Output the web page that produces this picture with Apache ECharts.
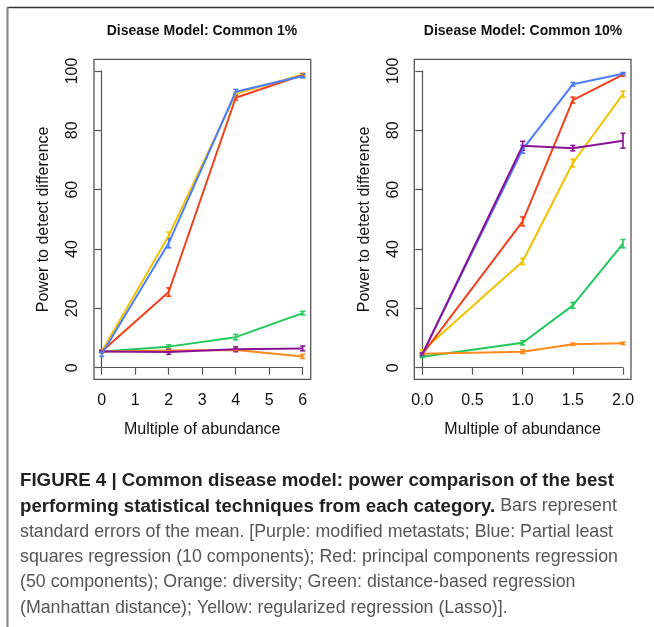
<!DOCTYPE html>
<html>
<head>
<meta charset="utf-8">
<script src="https://cdn.jsdelivr.net/npm/echarts@6/dist/echarts.min.js"></script>
<style>
  html, body { margin: 0; padding: 0; background: #fff; }
  #chart { width: 654px; height: 627px; }
</style>
</head>
<body>
<div id="chart"></div>
<script>
// 数据 - 左图 (Common 1%)
const xLeft = [0, 2, 4, 6]
const leftPurple = [5.5, 5.3, 6.2, 6.5]
const leftBlue = [4.5, 42, 93, 98.3]
const leftRed = [5.5, 25.5, 91, 98.6]
const leftOrange = [5.5, 5.8, 6.0, 3.8]
const leftGreen = [5.5, 7.1, 10.3, 18.4]
const leftYellow = [5.5, 44.5, 92.3, 98.8]
// 标准误 (左)
const leftPurpleErr = [0.3, 0.8, 0.8, 0.8]
const leftBlueErr = [0.7, 1.6, 0.8, 0.6]
const leftRedErr = [0.4, 1.4, 0.8, 0.5]
const leftOrangeErr = [0.3, 0.5, 0.5, 0.7]
const leftGreenErr = [0.3, 0.6, 0.9, 0.6]
const leftYellowErr = [0.4, 1.2, 0.6, 0.4]

// 数据 - 右图 (Common 10%)
const xRight = [0, 1, 1.5, 2]
const rightPurple = [4.5, 74.8, 74, 76.5]
const rightBlue = [4.5, 73.6, 95.5, 99.1]
const rightRed = [4.5, 49.3, 90.2, 98.8]
const rightOrange = [4.7, 5.4, 7.9, 8.2]
const rightGreen = [3.7, 8.4, 21, 41.8]
const rightYellow = [5.6, 35.8, 69, 92.2]
// 标准误 (右)
const rightPurpleErr = [0.4, 1.5, 0.9, 2.5]
const rightBlueErr = [0.4, 1.3, 0.6, 0.4]
const rightRedErr = [0.4, 1.5, 1.0, 0.5]
const rightOrangeErr = [0.3, 0.6, 0.4, 0.4]
const rightGreenErr = [0.3, 0.7, 1.0, 1.4]
const rightYellowErr = [0.4, 1.0, 1.3, 1.0]

const yTicks = [0, 20, 40, 60, 80, 100]
const titles = ['Disease Model: Common 1%', 'Disease Model: Common 10%']
const captionLines = [
  [['b', 'FIGURE 4 | Common disease model: power comparison of the best']],
  [['b', 'performing statistical techniques from each category.'], ['n', ' Bars represent']],
  [['n', 'standard errors of the mean. [Purple: modified metastats; Blue: Partial least']],
  [['n', 'squares regression (10 components); Red: principal components regression']],
  [['n', '(50 components); Orange: diversity; Green: distance-based regression']],
  [['n', '(Manhattan distance); Yellow: regularized regression (Lasso)].']]
]

const colors = {
  purple: '#8b1198',
  blue: '#4a7dff',
  red: '#f2401a',
  orange: '#ff8a1c',
  green: '#20c95a',
  yellow: '#f2c200'
}

const FONT = 'Liberation Sans, Arial, sans-serif'
const AXIS_COLOR = '#555'

const panels = [
  {
    x: xLeft, max: 6, interval: 1, fmt: v => String(v),
    series: [
      ['yellow', leftYellow, leftYellowErr],
      ['red', leftRed, leftRedErr],
      ['green', leftGreen, leftGreenErr],
      ['orange', leftOrange, leftOrangeErr],
      ['purple', leftPurple, leftPurpleErr],
      ['blue', leftBlue, leftBlueErr]
    ]
  },
  {
    x: xRight, max: 2, interval: 0.5, fmt: v => v.toFixed(1),
    series: [
      ['yellow', rightYellow, rightYellowErr],
      ['red', rightRed, rightRedErr],
      ['green', rightGreen, rightGreenErr],
      ['orange', rightOrange, rightOrangeErr],
      ['blue', rightBlue, rightBlueErr],
      ['purple', rightPurple, rightPurpleErr]
    ]
  }
]

// 图区布局
const gridPos = [
  { left: 101.7, top: 71, width: 201, height: 296.7 },
  { left: 422.3, top: 71, width: 200.7, height: 296.7 }
]
const boxes = [
  { x: 94, y: 59.3, width: 216.7, height: 320 },
  { x: 414.3, y: 59.3, width: 216.7, height: 320 }
]

const series = []
panels.forEach((p, gi) => {
  p.series.forEach(([name, vals, errs]) => {
    series.push({
      type: 'line',
      name,
      xAxisIndex: gi,
      yAxisIndex: gi,
      symbol: 'none',
      silent: true,
      lineStyle: { color: colors[name], width: 2 },
      data: p.x.map((x, i) => [x, vals[i]])
    })
    // 误差线
    series.push({
      type: 'custom',
      xAxisIndex: gi,
      yAxisIndex: gi,
      silent: true,
      data: p.x.map((x, i) => [x, vals[i] - errs[i], vals[i] + errs[i]]),
      renderItem: (params, api) => {
        const lo = api.coord([api.value(0), api.value(1)])
        const hi = api.coord([api.value(0), api.value(2)])
        const w = 2.5
        const st = { stroke: colors[name], lineWidth: 1.6 }
        return {
          type: 'group',
          children: [
            { type: 'line', shape: { x1: lo[0], y1: lo[1], x2: hi[0], y2: hi[1] }, style: st },
            { type: 'line', shape: { x1: lo[0] - w, y1: lo[1], x2: lo[0] + w, y2: lo[1] }, style: st },
            { type: 'line', shape: { x1: hi[0] - w, y1: hi[1], x2: hi[0] + w, y2: hi[1] }, style: st }
          ]
        }
      }
    })
  })
})

const graphic = [
  // 外框
  { type: 'line', shape: { x1: 7, y1: 7.5, x2: 654, y2: 7.5 }, style: { stroke: '#333', lineWidth: 1.6 } },
  { type: 'line', shape: { x1: 7.5, y1: 7, x2: 7.5, y2: 627 }, style: { stroke: '#888', lineWidth: 2.2 } }
]
boxes.forEach(b => {
  graphic.push({ type: 'rect', shape: b, style: { fill: 'none', stroke: AXIS_COLOR, lineWidth: 1.3 }, z: 10 })
})
titles.forEach((t, i) => {
  graphic.push({
    type: 'text',
    x: [202, 523][i],
    y: 31,
    style: { text: t, font: 'bold 14px ' + FONT, fill: '#111', align: 'center', verticalAlign: 'middle' }
  })
})
captionLines.forEach((parts, i) => {
  graphic.push({
    type: 'text',
    x: 20,
    y: 481 + i * 25.4,
    style: {
      text: parts.map(([k, s]) => '{' + k + '|' + s + '}').join(''),
      verticalAlign: 'middle',
      rich: {
        b: { fontFamily: FONT, fontWeight: 'bold', fontSize: 18.7, fill: '#222' },
        n: { fontFamily: FONT, fontSize: 17.8, fill: '#555' }
      }
    }
  })
})

const option = {
  animation: false,
  backgroundColor: '#fff',
  grid: gridPos.map(g => Object.assign({ containLabel: false }, g)),
  xAxis: panels.map((p, gi) => ({
    type: 'value',
    gridIndex: gi,
    min: 0,
    max: p.max,
    interval: p.interval,
    offset: 11.6,
    name: 'Multiple of abundance',
    nameLocation: 'middle',
    nameGap: 42,
    nameTextStyle: { fontFamily: FONT, fontSize: 16, color: '#111' },
    splitLine: { show: false },
    axisLine: { lineStyle: { color: AXIS_COLOR, width: 1.2 } },
    axisTick: { length: 7, lineStyle: { color: AXIS_COLOR, width: 1.2 } },
    axisLabel: { fontFamily: FONT, fontSize: 16, color: '#111', margin: 13, formatter: p.fmt }
  })),
  yAxis: panels.map((p, gi) => ({
    type: 'value',
    gridIndex: gi,
    min: 0,
    max: 100,
    interval: 20,
    offset: gi === 0 ? 7.7 : 8,
    name: 'Power to detect difference',
    nameLocation: 'middle',
    nameGap: 42,
    nameTextStyle: { fontFamily: FONT, fontSize: 16, color: '#111' },
    splitLine: { show: false },
    axisLine: { show: true, lineStyle: { color: AXIS_COLOR, width: 1.2 } },
    axisTick: { show: true, length: 7, lineStyle: { color: AXIS_COLOR, width: 1.2 } },
    axisLabel: {
      fontFamily: FONT, fontSize: 16, color: '#111', rotate: 90, margin: 13,
      formatter: v => (yTicks.indexOf(v) >= 0 ? String(v) : '')
    }
  })),
  graphic,
  series
}

echarts.init(document.getElementById('chart')).setOption(option)
</script>
</body>
</html>
